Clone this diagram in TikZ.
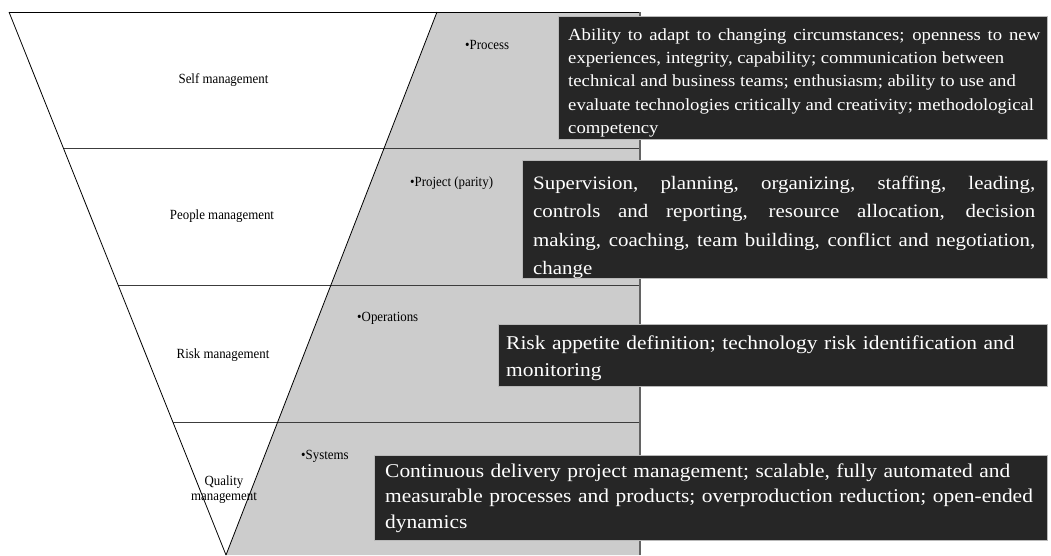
\documentclass[tikz,border=0pt]{standalone}
\usepackage{fontspec}
\setmainfont{Liberation Serif}
\newfontfamily\labelfont{Liberation Serif}[FakeStretch=0.92]
\newfontfamily\boxfont{Liberation Serif}[FakeStretch=1.1]
\usetikzlibrary{calc}
\definecolor{bandgray}{HTML}{CCCCCC}
\definecolor{boxdark}{HTML}{262626}
\definecolor{rulegray}{HTML}{3C3C3C}
\begin{document}
\begin{tikzpicture}[x=1pt,y=-1pt,
  funnel/.style={draw=black, line width=0.8pt},
  band/.style={draw=rulegray, line width=1pt},
  edge/.style={draw=rulegray!80, line width=1.4pt},
  darkbox/.style={fill=boxdark, draw=gray!55, line width=0.6pt, inner sep=0pt, anchor=north west},
  boxtext/.style={text=white, inner sep=0pt, anchor=west, align=left, text width=#1},
  level/.style={font=\labelfont\fontsize{14}{15}\selectfont, inner sep=0pt, align=center},
  tag/.style={font=\labelfont\fontsize{14}{15}\selectfont, inner sep=0pt, anchor=west}]

\useasboundingbox (0,0) rectangle (1051,555);

% frame of the funnel
\coordinate (tl) at (9,12);
\coordinate (tm) at (437,12);
\coordinate (tr) at (640,12);
\coordinate (br) at (640,555);
\coordinate (apex) at (226,555);

% level boundaries on the left side of the funnel
\coordinate (l1) at ($(tl)!{136/543}!(apex)$);
\coordinate (l2) at ($(tl)!{273/543}!(apex)$);
\coordinate (l3) at ($(tl)!{410/543}!(apex)$);

% shaded band to the right of the funnel
\fill[bandgray] (tm) -- (tr) -- (br) -- (apex) -- cycle;

% level dividers
\draw[band] (l1) -- (l1 -| br);
\draw[band] (l2) -- (l2 -| br);
\draw[band] (l3) -- (l3 -| br);

% funnel outline
\draw[funnel] (tl) -- (tr);
\draw[funnel] (tl) -- (apex);
\draw[funnel] (tm) -- (apex);
\draw[edge] (tr) -- (br);

% level names
\node[level] (self) at (223.5,80) {Self management};
\node[level] (people) at (222,216) {People management};
\node[level] (risk) at (223,355) {Risk management};
\node[level] (quality) at (224,490) {Quality\\management};

% focus tags
\node[tag] (process) at (465,45) {•Process};
\node[tag] (project) at (410,183) {•Project (parity)};
\node[tag] (operations) at (357,318) {•Operations};
\node[tag] (systems) at (301,456) {•Systems};

% description boxes
\node[darkbox, minimum width=489pt, minimum height=123pt] (box1) at (558,16) {};
\node[boxtext=500pt, font=\boxfont\fontsize{17}{23.3}\selectfont] (txt1) at ([xshift=10pt,yshift=-5pt]box1.west)
  {\spaceskip=0pt\xspaceskip=0pt
   \makebox[472pt][s]{Ability to adapt to changing circumstances; openness to new}\\
   experiences, integrity, capability; communication between\\
   technical and business teams; enthusiasm; ability to use and\\
   evaluate technologies critically and creativity; methodological\\
   competency};

\node[darkbox, minimum width=525pt, minimum height=118pt] (box2) at (522,160) {};
\node[boxtext=505pt, font=\boxfont\fontsize{19}{28.4}\selectfont] (txt2) at ([xshift=11pt,yshift=-8pt]box2.west)
  {\spaceskip=0pt\xspaceskip=0pt
   \makebox[502pt][s]{Supervision, planning, organizing, staffing, leading,}\\
   \makebox[502pt][s]{controls and reporting, resource allocation, decision}\\
   \makebox[502pt][s]{making, coaching, team building, conflict and negotiation,}\\
   change};

\node[darkbox, minimum width=549pt, minimum height=62pt] (box3) at (498,324) {};
\node[boxtext=540pt, font=\boxfont\fontsize{19.5}{27.5}\selectfont] (txt3) at ([xshift=8pt,yshift=-3pt]box3.west)
  {Risk appetite definition; technology risk identification and\\
   monitoring};

\node[darkbox, minimum width=673pt, minimum height=85pt] (box4) at (374,455) {};
\node[boxtext=665pt, font=\boxfont\fontsize{19.5}{25.5}\selectfont] (txt4) at ([xshift=11pt]box4.west)
  {Continuous delivery project management; scalable, fully automated and\\
   measurable processes and products; overproduction reduction; open-ended\\
   dynamics};

\end{tikzpicture}
\end{document}
